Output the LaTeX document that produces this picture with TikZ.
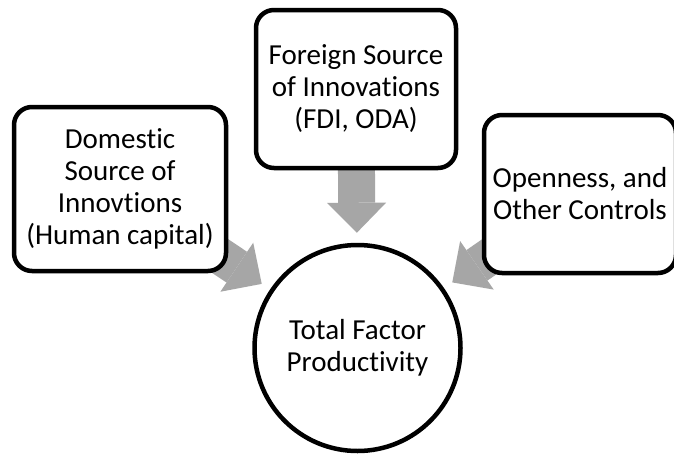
\documentclass[tikz,border=0pt]{standalone}
\usepackage{fontspec}
\setmainfont{Carlito}[Ligatures=NoCommon]
\usetikzlibrary{arrows.meta,backgrounds}
\definecolor{arrowgray}{HTML}{A6A6A6}
\tikzset{
  labelfont/.style={font=\fontsize{29}{32}\selectfont},
  srcbox/.style={draw=black, line width=4.5pt, rounded corners=18pt, fill=white,
    align=center, inner sep=0pt, outer sep=0pt, labelfont},
  goal/.style={circle, draw=black, line width=4.5pt, fill=white, minimum size=206pt,
    inner sep=0pt, align=center, labelfont},
  blockarrow/.style={draw=arrowgray, line width=37pt,
    -{Triangle[width=59pt,length=30pt,line width=0pt]}, shorten >=10pt}
}
\begin{document}
\begin{tikzpicture}[x=1pt,y=-1pt]
  \useasboundingbox (0,0) rectangle (674,455);

  % sources of innovation
  \node[srcbox, minimum width=212pt, minimum height=164pt] (dom) at (120,189)
    {Domestic\\Source of\\Innovtions\\(Human capital)};
  \node[srcbox, minimum width=200pt, minimum height=158pt] (fsi) at (356,89)
    {Foreign Source\\of Innovations\\(FDI, ODA)};
  \node[srcbox, minimum width=192pt, minimum height=158pt] (opn) at (580,194)
    {Openness, and\\Other Controls};

  % outcome
  \node[goal] (tfp) at (357.5,348) {Total Factor\\Productivity};

  % white page and block arrows pointing into the outcome, behind the boxes
  \begin{scope}[on background layer]
    \fill[white] (0,0) rectangle (674,455);
    \draw[blockarrow] (dom.center) -- (tfp);
    \draw[blockarrow] (fsi.center) -- (tfp);
    \draw[blockarrow] (opn.center) -- (tfp);
  \end{scope}
\end{tikzpicture}
\end{document}
